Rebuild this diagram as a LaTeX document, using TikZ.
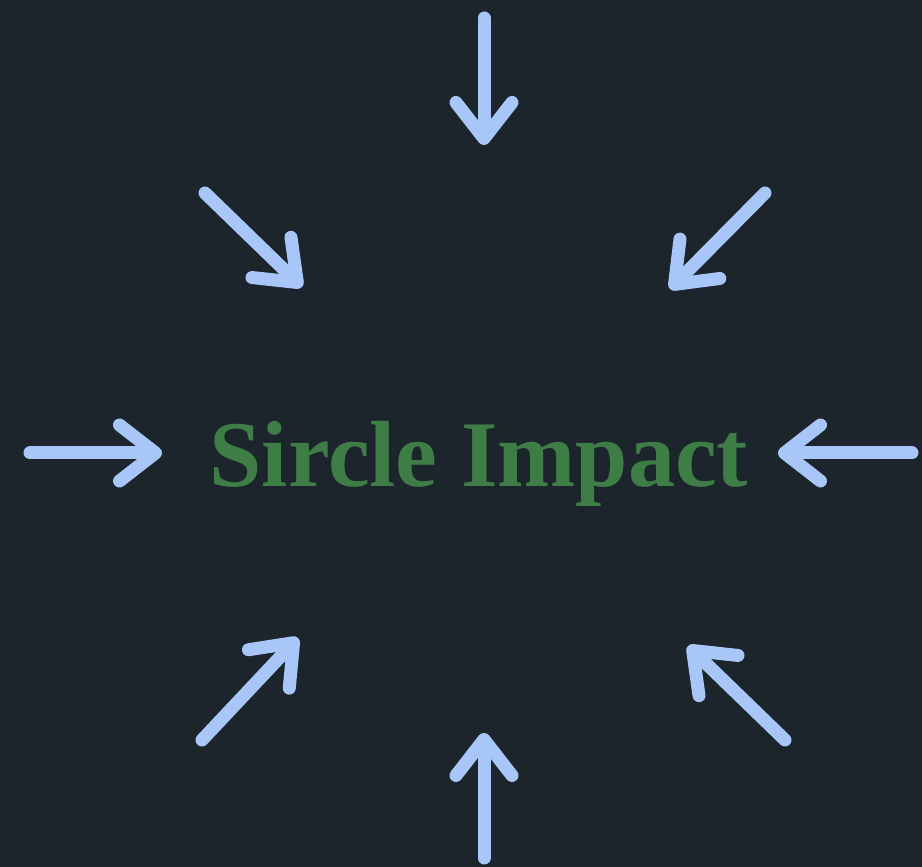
\documentclass[tikz,border=0pt]{standalone}
\usepackage{fontspec}
\setmainfont{Liberation Serif}
\usepackage{xcolor}
\usetikzlibrary{arrows.meta}
\tikzset{arrow/.style = {line width = 13pt, line cap = round, draw = arrowColor, -{Straight Barb[length = 36pt, width = 56pt, round]}}}
\tikzset{title/.style = {text = titleColor, inner sep = 0pt, outer sep = 0pt, font = \fontsize{94}{106}\selectfont\bfseries}}

\begin{document}
\begin{tikzpicture}[x=1pt,y=1pt]
\definecolor{fillColor}{RGB}{27,37,43}
\definecolor{arrowColor}{RGB}{168,199,248}
\definecolor{titleColor}{RGB}{62,125,69}
\path[use as bounding box,fill=fillColor] (0,0) rectangle (922,867);

\node[title,anchor=base] (title) at (479,380) {Sircle Impact};

\coordinate (topStart) at (484,849);
\coordinate (topEnd) at (484,722);
\coordinate (bottomStart) at (484,9);
\coordinate (bottomEnd) at (484,134);
\coordinate (leftStart) at ( 30,414);
\coordinate (leftEnd) at (162,414);
\coordinate (rightStart) at (912,414);
\coordinate (rightEnd) at (778,414);
\coordinate (topLeftStart) at (205,674);
\coordinate (topLeftEnd) at (302,580);
\coordinate (topRightStart) at (765,674);
\coordinate (topRightEnd) at (670,578);
\coordinate (bottomLeftStart) at (202,127);
\coordinate (bottomLeftEnd) at (298,229);
\coordinate (bottomRightStart) at (785,127);
\coordinate (bottomRightEnd) at (688,221);

\draw[arrow] (topStart) -- (topEnd);
\draw[arrow] (bottomStart) -- (bottomEnd);
\draw[arrow] (leftStart) -- (leftEnd);
\draw[arrow] (rightStart) -- (rightEnd);
\draw[arrow] (topLeftStart) -- (topLeftEnd);
\draw[arrow] (topRightStart) -- (topRightEnd);
\draw[arrow] (bottomLeftStart) -- (bottomLeftEnd);
\draw[arrow] (bottomRightStart) -- (bottomRightEnd);
\end{tikzpicture}
\end{document}
